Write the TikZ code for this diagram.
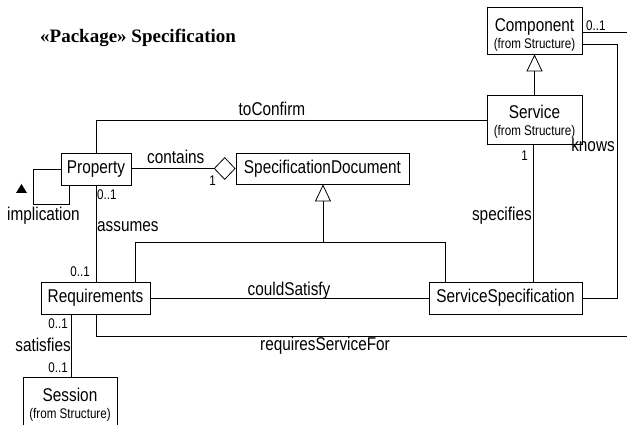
\documentclass[tikz,border=0pt]{standalone}
\usepackage{fontspec}
\setmainfont{Liberation Serif}
\newfontfamily\umlfont{Liberation Sans}[FakeStretch=0.83]
\usetikzlibrary{arrows.meta,shapes.geometric}
\tikzset{
  cls/.style={draw, line width=0.8pt, inner sep=0pt, align=center,
    font=\umlfont\fontsize{18.5}{17}\selectfont},
  lbl/.style={inner sep=0pt, font=\umlfont\fontsize{18.5}{20}\selectfont},
  mult/.style={inner sep=0pt, font=\umlfont\fontsize{14}{16}\selectfont},
  conn/.style={line width=0.8pt},
  gen/.style={conn, -{Triangle[open, length=17pt, width=16pt, line width=0.8pt]}},
}
\newcommand{\fromstr}{{\fontsize{14}{17}\selectfont (from Structure)}}
\begin{document}
\begin{tikzpicture}[x=1pt, y=-1pt]
\clip (0,0) rectangle (627,425);
\fill[white] (0,0) rectangle (627,425);

\node[inner sep=0pt, anchor=base west, font=\bfseries\fontsize{19}{21}\selectfont] (title) at (40,42.5) {«Package» Specification};

% classes
\node[cls, minimum width=95pt, minimum height=47pt] (comp) at (534.5,30.5) {\rule{0pt}{22pt}Component\\\fromstr};
\node[cls, minimum width=95pt, minimum height=49pt] (serv) at (534.5,119.5) {\rule{0pt}{17.6pt}Service\\\fromstr};
\node[cls, minimum width=70pt, minimum height=32pt] (prop) at (96,169) {Property};
\node[cls, minimum width=173pt, minimum height=31pt] (sdoc) at (322.5,168.5) {SpecificationDocument};
\node[cls, minimum width=109pt, minimum height=32pt] (req) at (95.5,298) {Requirements};
\node[cls, minimum width=153pt, minimum height=32pt] (sspec) at (505.5,298) {ServiceSpecification};
\node[cls, minimum width=94pt, minimum height=56pt] (sess) at (70,405) {Session\\\fromstr};

% aggregation diamond
\node[draw, diamond, line width=0.8pt, inner sep=0pt, minimum width=21pt, minimum height=22pt, anchor=east] (agg) at (sdoc.west) {};

% helper coordinates
\coordinate (e1) at (627,32);
\coordinate (e2) at (627,336);
\coordinate (g1) at (323,242);

% connectors
\draw[conn] (comp.east |- e1) -- (e1);
\draw[conn] (comp.east |- 0,44) -- (617,44) -- (617,298) -- (sspec.east);
\draw[gen] (serv.north) -- (comp.south);
\draw[conn] (serv.west |- 0,120) -- (96,120) -- (prop.north);
\draw[conn] (serv.south -| 533,0) -- (sspec.north -| 533,0);
\draw[conn] (prop.east |- agg.west) -- (agg.west);
\draw[conn] (prop.west) -- (33,169) -- (33,204) -- (69,204) -- (prop.south -| 69,0);
\draw[conn] (prop.south) -- (req.north -| prop.south);
\draw[gen] (g1) -- (sdoc.south -| g1);
\draw[conn] (req.north -| 135,0) -- (135,242) -- (445,242) -- (sspec.north -| 445,0);
\draw[conn] (req.east) -- (sspec.west);
\draw[conn] (req.south -| 96,0) -- (96,336) -- (e2);
\draw[conn] (req.south -| 71,0) -- (sess.north -| 71,0);

% filled direction triangle
\fill (16,193) -- (27,193) -- (21.5,184) -- cycle;

% labels
\node[mult, anchor=base west] (m1) at (586,30.5) {0..1};
\node[lbl, anchor=base east] (l1) at (615,152) {knows};
\node[mult, anchor=base east] (m2) at (528,161) {1};
\node[lbl, anchor=base east] (l2) at (532,220) {specifies};
\node[lbl, anchor=base] (l3) at (272,116) {toConfirm};
\node[lbl, anchor=base west] (l4) at (147,164) {contains};
\node[mult, anchor=base east] (m3) at (216,185.5) {1};
\node[mult, anchor=base west] (m4) at (97,200) {0..1};
\node[lbl, anchor=base west] (l5) at (7,221) {implication};
\node[lbl, anchor=base west] (l6) at (97,231) {assumes};
\node[mult, anchor=base east] (m5) at (90,276) {0..1};
\node[lbl, anchor=base] (l7) at (289,295) {couldSatisfy};
\node[lbl, anchor=base] (l8) at (325,350) {requiresServiceFor};
\node[mult, anchor=base east] (m6) at (68,328) {0..1};
\node[lbl, anchor=base east] (l9) at (71,351) {satisfies};
\node[mult, anchor=base east] (m7) at (68,372) {0..1};
\end{tikzpicture}
\end{document}
